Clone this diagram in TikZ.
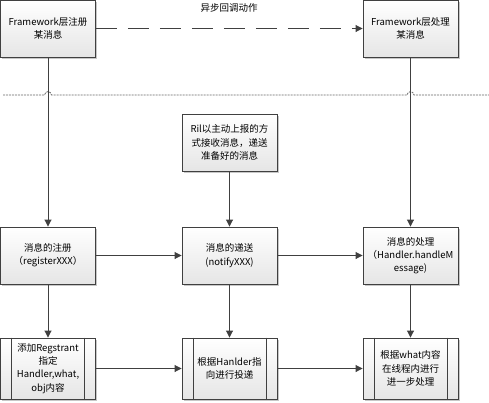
\documentclass[tikz,border=0pt]{standalone}
\usepackage{fontspec}
\setmainfont{Noto Sans CJK SC}
\usetikzlibrary{arrows.meta,shadows}
\definecolor{lc}{HTML}{404040}
\tikzset{
  box/.style={draw=lc, line width=0.9pt, minimum width=95pt, minimum height=57pt, inner sep=1pt,
    align=center, top color=white, bottom color=black!10,
    drop shadow={shadow xshift=1.8pt, shadow yshift=-1.8pt, fill=black!22, opacity=1},
    font=\fontsize{9.5}{13.2}\selectfont},
  pbox/.style={box, minimum height=61pt},
  arr/.style={draw=lc, line width=0.9pt, -{Triangle[length=7pt,width=7pt]}},
  lbl/.style={font=\fontsize{9.5}{13.2}\selectfont}
}
\begin{document}
\begin{tikzpicture}[x=1pt,y=-1pt]
\useasboundingbox (0,0) rectangle (489,402);
% top row
\node[box] (fl) at (48,28.5) {Framework层注册\\某消息};
\node[box] (fr) at (410.5,28.5) {Framework层处理\\某消息};
\node[lbl] (async) at (229,8) {异步回调动作};
% dotted separator with hops
\draw[black!60, line width=0.8pt, dash pattern=on 2pt off 1pt]
  (3,95) -- (44.5,95) .. controls (45,90.5) and (51,90.5) .. (51.5,95) -- (407,95)
  .. controls (407.5,90.5) and (413.5,90.5) .. (414,95) -- (489,95);
% ril
\node[box] (ril) at (229.5,142.5) {Ril以主动上报的方\\式接收消息，递送\\准备好的消息};
% row 2
\node[box] (reg) at (48,255.5) {消息的注册\\（registerXXX）};
\node[box] (deliv) at (229.5,255.5) {消息的递送\\(notifyXXX)};
\node[box] (proc) at (410.5,255.5) {消息的处理\\（Handler.handleM\\essage)};
% row 3
\node[pbox] (add) at (48,368.5) {添加Regstrant\\指定\\Handler,what,\\obj内容};
\node[pbox] (hand) at (229.5,368.5) {根据Hanlder指\\向进行投递};
\node[pbox] (what) at (410.5,368.5) {根据what内容\\在线程内进行\\进一步处理};
\foreach \n in {add,hand,what}{
  \draw[lc, line width=0.9pt] ([xshift=11.5pt]\n.north west) -- ([xshift=11.5pt]\n.south west);
  \draw[lc, line width=0.9pt] ([xshift=-11.5pt]\n.north east) -- ([xshift=-11.5pt]\n.south east);
}
% connectors
\draw[arr, dash pattern=on 21pt off 11pt] (fl) -- (fr);
\draw[arr] (fl) -- (reg);
\draw[arr] (fr) -- (proc);
\draw[arr] (ril) -- (deliv);
\draw[arr] (reg) -- (deliv);
\draw[arr] (deliv) -- (proc);
\draw[arr] (reg) -- (add);
\draw[arr] (deliv) -- (hand);
\draw[arr] (proc) -- (what);
\draw[arr] (add) -- (hand);
\draw[arr] (hand) -- (what);
\end{tikzpicture}
\end{document}
